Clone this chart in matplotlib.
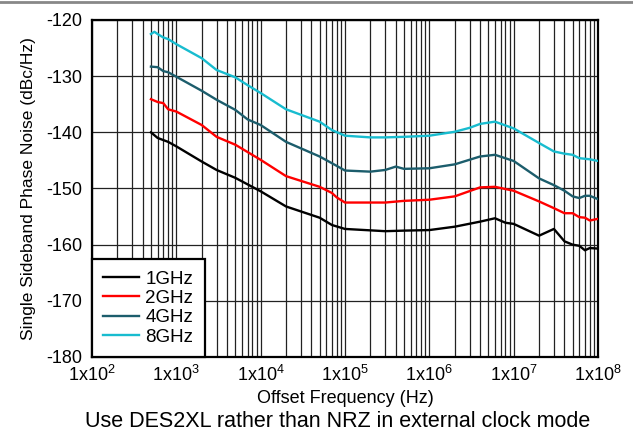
import matplotlib
matplotlib.use('Agg')
import matplotlib.pyplot as plt
from matplotlib.lines import Line2D
from matplotlib.ticker import FixedLocator, FixedFormatter, LogLocator, NullFormatter

plt.rcParams['font.family'] = ['Liberation Sans', 'DejaVu Sans']
plt.rcParams['axes.unicode_minus'] = False

# offset frequencies (Hz) and phase noise (dBc/Hz)
freq_1g = [500, 600, 800, 1e3, 2e3, 3e3, 5e3, 1e4, 2e4, 5e4, 7e4, 1e5, 3e5, 5e5,
           1e6, 2e6, 4e6, 6e6, 8e6, 1e7, 2e7, 3e7, 4e7, 5e7, 6e7, 7e7, 8e7, 1e8]
pn_1g = [-140.0, -141.0, -141.7, -142.5, -145.2, -146.7, -148.1, -150.5, -153.2,
         -155.2, -156.5, -157.2, -157.6, -157.5, -157.4, -156.8, -155.9, -155.3,
         -156.1, -156.3, -158.4, -157.2, -159.4, -160.0, -160.2, -161.0, -160.6, -160.7]

freq_2g = [500, 600, 700, 800, 1e3, 2e3, 3e3, 5e3, 1e4, 2e4, 5e4, 7e4, 8e4, 1e5,
           3e5, 5e5, 1e6, 2e6, 4e6, 6e6, 1e7, 2e7, 3e7, 4e7, 5e7, 6e7, 7e7, 8e7, 1e8]
pn_2g = [-134.1, -134.6, -134.8, -135.9, -136.3, -138.7, -140.8, -142.2, -144.9,
         -147.8, -149.7, -150.8, -151.6, -152.5, -152.5, -152.2, -152.0, -151.4,
         -149.8, -149.7, -150.4, -152.3, -153.5, -154.4, -154.4, -155.1, -155.2,
         -155.7, -155.4]

freq_4g = [500, 600, 700, 800, 1e3, 2e3, 3e3, 5e3, 7e3, 1e4, 2e4, 5e4, 7e4, 1e5,
           2e5, 3e5, 4e5, 5e5, 1e6, 2e6, 4e6, 6e6, 1e7, 2e7, 3e7, 4e7, 5e7, 6e7,
           7e7, 8e7, 1e8]
pn_4g = [-128.3, -128.4, -129.1, -129.3, -130.1, -132.6, -134.2, -136.0, -137.7,
         -138.7, -141.7, -144.3, -145.5, -146.8, -147.0, -146.7, -146.1, -146.5,
         -146.4, -145.7, -144.3, -144.0, -145.1, -148.2, -149.4, -150.4, -151.4,
         -151.7, -151.3, -151.3, -151.9]

freq_8g = [500, 550, 600, 700, 800, 1e3, 2e3, 3e3, 5e3, 7e3, 1e4, 2e4, 5e4, 7e4,
           1e5, 2e5, 3e5, 5e5, 1e6, 2e6, 3e6, 4e6, 6e6, 1e7, 2e7, 3e7, 4e7, 5e7,
           6e7, 8e7, 1e8]
pn_8g = [-122.5, -122.1, -122.5, -123.1, -123.4, -124.3, -126.8, -128.9, -130.2,
         -131.6, -133.0, -135.9, -138.1, -139.6, -140.6, -140.9, -140.9, -140.8,
         -140.6, -139.9, -139.2, -138.5, -138.1, -139.3, -141.9, -143.4, -143.8,
         -144.0, -144.6, -144.8, -145.1]

x_ticks = [1e2, 1e3, 1e4, 1e5, 1e6, 1e7, 1e8]
x_labels = [r'$\mathregular{1x10^{%d}}$' % e for e in range(2, 9)]
y_ticks = [-180, -170, -160, -150, -140, -130, -120]

fig = plt.figure(figsize=(6.33, 4.43), dpi=100)
ax = fig.add_axes([92 / 633, 1 - 357 / 443, 506 / 633, 337 / 443])

lw = 1.7
ax.plot(freq_1g, pn_1g, color='black', lw=lw, label='1GHz', zorder=5)
ax.plot(freq_2g, pn_2g, color='#ff0000', lw=lw, label='2GHz', zorder=5)
ax.plot(freq_4g, pn_4g, color='#1c5d6c', lw=lw, label='4GHz', zorder=5)
ax.plot(freq_8g, pn_8g, color='#18bccf', lw=lw, label='8GHz', zorder=5)

ax.set_xscale('log')
ax.set_xlim(1e2, 1e8)
ax.set_ylim(-180, -120)
ax.xaxis.set_major_locator(FixedLocator(x_ticks))
ax.xaxis.set_major_formatter(FixedFormatter(x_labels))
ax.xaxis.set_minor_locator(LogLocator(base=10, subs=range(2, 10), numticks=20))
ax.xaxis.set_minor_formatter(NullFormatter())
ax.set_yticks(y_ticks)

ax.grid(True, which='major', axis='both', color='#222222', lw=0.9)
ax.grid(True, which='minor', axis='x', color='#222222', lw=0.9)
ax.tick_params(which='both', length=0, labelsize=13)
ax.tick_params(axis='x', pad=6)
ax.tick_params(axis='y', pad=7)

for sp in ax.spines.values():
    sp.set_linewidth(1.6)

ax.set_xlabel('Offset Frequency (Hz)', fontsize=13, labelpad=3)
ax.set_ylabel('Single Sideband Phase Noise (dBc/Hz)', fontsize=12.5, labelpad=7)

leg = ax.legend(loc='lower left', borderaxespad=0, fancybox=False, fontsize=13.5,
                handlelength=1.9, handletextpad=0.35, labelspacing=0.12,
                borderpad=0.6, framealpha=1)
leg.get_frame().set_edgecolor('black')
leg.get_frame().set_linewidth(1.6)

fig.text(338 / 633, 1 - 427 / 443, 'Use DES2XL rather than NRZ in external clock mode',
         ha='center', va='baseline', fontsize=15.5)

# thin grey rule across the top of the image
fig.add_artist(Line2D([0, 1], [1 - 2 / 443, 1 - 2 / 443], color='#888888', lw=2,
                      transform=fig.transFigure))

fig.savefig('out.png', dpi=100)
